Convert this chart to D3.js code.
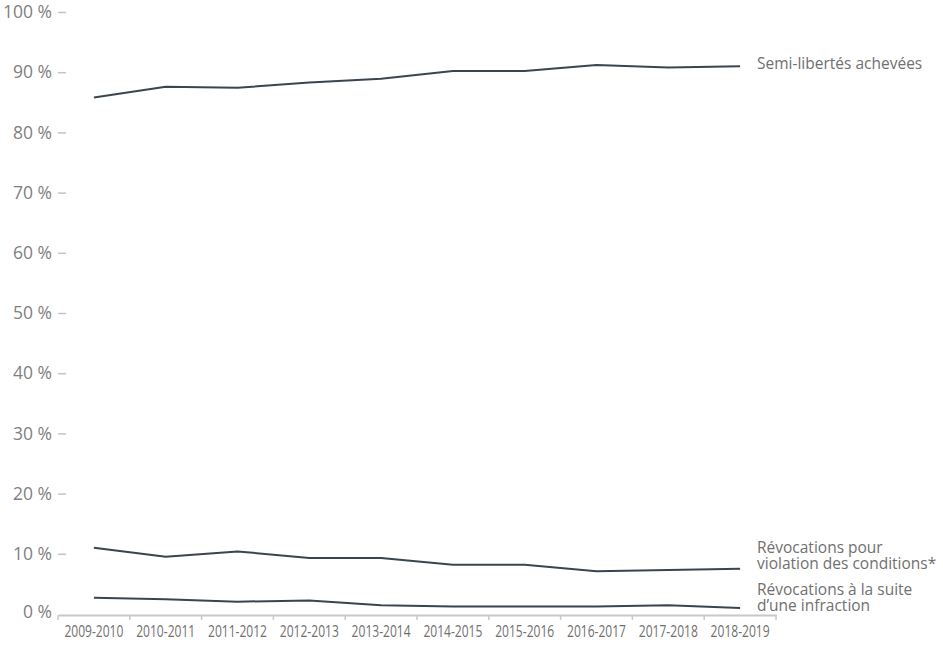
<!DOCTYPE html>
<html>
<head>
<meta charset="utf-8">
<script src="https://cdn.jsdelivr.net/npm/d3@7"></script>
<style>
  html, body { margin: 0; padding: 0; background: #fff; }
  svg { display: block; }
</style>
</head>
<body>
<svg id="chart" width="943" height="648"></svg>
<script>
const years = ["2009-2010","2010-2011","2011-2012","2012-2013","2013-2014","2014-2015","2015-2016","2016-2017","2017-2018","2018-2019"];
const completed = [85.8, 87.6, 87.4, 88.3, 88.9, 90.2, 90.2, 91.2, 90.8, 91.0];
const breachRevocations = [11.0, 9.5, 10.4, 9.3, 9.3, 8.2, 8.2, 7.1, 7.3, 7.5];
const offenceRevocations = [2.7, 2.45, 2.05, 2.25, 1.45, 1.25, 1.25, 1.25, 1.45, 1.0];
const yTicks = [0, 10, 20, 30, 40, 50, 60, 70, 80, 90, 100];
const seriesNames = [
  ["Semi-libertés achevées"],
  ["Révocations pour", "violation des conditions*"],
  ["Révocations à la suite", "d’une infraction"]
];

const svg = d3.select("#chart");
const x = d3.scaleBand().domain(years).range([58, 776]);
const y = d3.scaleLinear().domain([0, 100]).range([614, 12]);
const yFont = "'Open Sans', sans-serif";

// Y axis ticks (dashes + labels)
const yAxis = d3.axisLeft(y).tickValues(yTicks.filter(d => d > 0)).tickSize(8).tickPadding(6)
  .tickFormat(d => d + " %");
const gy = svg.append("g").attr("transform", "translate(66,0)").call(yAxis);
gy.select(".domain").remove();
gy.selectAll(".tick line").attr("stroke", "#c4c4c4").attr("stroke-width", 1.5);
gy.selectAll(".tick text").attr("fill", "#7f7f7f").style("font-family", yFont).style("font-size", "17.5px");
// 0 % label
svg.append("text").attr("x", 52).attr("y", y(0) - 2).attr("dy", "0.32em").attr("text-anchor", "end")
  .attr("fill", "#7f7f7f").style("font-family", yFont).style("font-size", "17.5px").text("0 %");

// X axis
const xAxis = d3.axisBottom(x).tickSize(0).tickPadding(11);
const gx = svg.append("g").attr("transform", `translate(0,${y(0) + 1})`).call(xAxis);
gx.select(".domain").attr("stroke", "#c8c8c8").attr("stroke-width", 2);
gx.selectAll(".tick text").attr("fill", "#6f6f6f")
  .style("font-family", "'Open Sans', sans-serif").style("font-size", "15.5px")
  .attr("textLength", 59).attr("lengthAdjust", "spacingAndGlyphs");
// band boundary ticks
const bounds = years.map(d => x(d)).concat([x(years[years.length - 1]) + x.bandwidth()]);
svg.append("g").selectAll("line").data(bounds).join("line")
  .attr("x1", d => d).attr("x2", d => d)
  .attr("y1", y(0) + 1).attr("y2", y(0) + 6)
  .attr("stroke", "#c8c8c8").attr("stroke-width", 1.5);

// Lines
const cx = d => x(d) + x.bandwidth() / 2;
const line = d3.line().x((d, i) => cx(years[i])).y(d => y(d));
const allSeries = [completed, breachRevocations, offenceRevocations];
svg.append("g").selectAll("path").data(allSeries).join("path")
  .attr("d", d => line(d))
  .attr("fill", "none")
  .attr("stroke", "#3a4552")
  .attr("stroke-width", 2)
  .attr("stroke-linejoin", "round");

// Series labels
const labelPos = [
  { x: 757, y: 64 },
  { x: 757, y: 547.5 },
  { x: 757, y: 589.5 }
];
seriesNames.forEach((lines, i) => {
  const t = svg.append("text")
    .attr("x", labelPos[i].x).attr("y", labelPos[i].y)
    .attr("fill", "#707070")
    .style("font-family", "'Open Sans', sans-serif").style("font-size", "15.5px");
  lines.forEach((s, j) => {
    t.append("tspan").attr("x", labelPos[i].x).attr("y", labelPos[i].y + j * 16.5)
      .attr("dy", "0.35em").text(s);
  });
});
</script>
</body>
</html>
